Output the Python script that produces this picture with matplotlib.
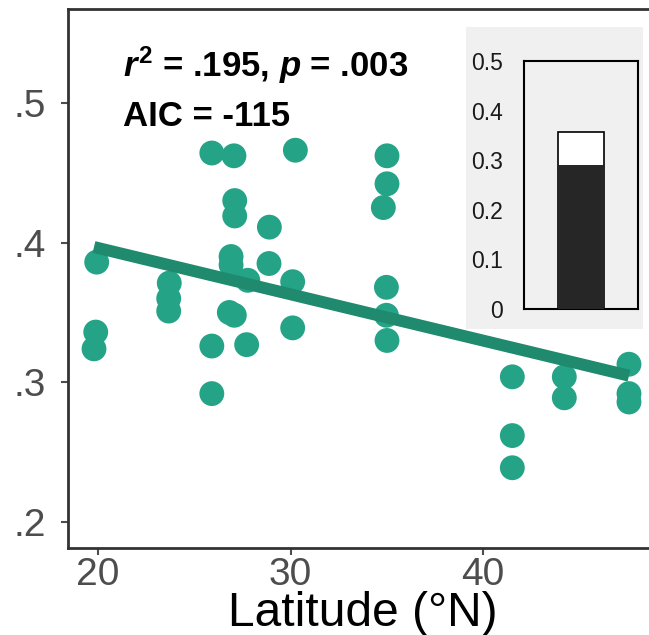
import numpy as np
import matplotlib
matplotlib.use('Agg')
import matplotlib.pyplot as plt

plt.rcParams['font.family'] = ['Liberation Sans', 'DejaVu Sans']
plt.rcParams['mathtext.fontset'] = 'custom'
plt.rcParams['mathtext.it'] = 'Liberation Sans:italic:bold'
plt.rcParams['mathtext.rm'] = 'Liberation Sans:bold'
plt.rcParams['mathtext.bf'] = 'Liberation Sans:bold'

# site latitude and trait value
latitude = [19.93, 19.88, 19.79, 23.70, 23.67, 23.67, 25.91, 25.91, 25.91,
            27.06, 27.10, 27.10, 26.91, 26.91, 26.82, 27.08, 27.78, 27.72,
            28.90, 28.88, 30.25, 30.11, 30.11, 35.01, 35.01, 34.82, 34.98,
            34.98, 35.01, 41.52, 41.52, 41.52, 44.22, 44.22, 47.58, 47.58,
            47.58]
value = [0.386, 0.336, 0.324, 0.371, 0.360, 0.351, 0.464, 0.326, 0.292,
         0.462, 0.430, 0.419, 0.390, 0.384, 0.350, 0.348, 0.373, 0.327,
         0.411, 0.385, 0.466, 0.372, 0.339, 0.462, 0.442, 0.425, 0.368,
         0.348, 0.330, 0.304, 0.262, 0.239, 0.304, 0.289, 0.313, 0.292,
         0.286]

# linear fit (slope, intercept)
fit_coef = [-0.00331, 0.4623]

stat_line = r'$r^2$ = .195, $p$ = .003'
aic_line = 'AIC = -115'

# inset bar: fitted part and total
inset_fixed = 0.290
inset_total = 0.357
inset_ticks = [0, 0.1, 0.2, 0.3, 0.4, 0.5]
inset_ticklabels = ['0', '0.1', '0.2', '0.3', '0.4', '0.5']

fig = plt.figure(figsize=(6.49, 6.35), dpi=100)
ax = fig.add_axes([0.1048, 0.1365, 0.8952, 0.8501])

ax.scatter(latitude, value, s=320, color='#24a387', edgecolors='none',
           zorder=2)
xs = np.array([min(latitude), max(latitude)])
ax.plot(xs, np.polyval(fit_coef, xs), color='#1f8a6e', lw=8.6,
        solid_capstyle='butt', zorder=3)

ax.set_xlim(18.44, 48.62)
ax.set_ylim(0.1814, 0.5673)
ax.set_xticks([20, 30, 40])
ax.set_yticks([0.2, 0.3, 0.4, 0.5])
ax.set_yticklabels(['.2', '.3', '.4', '.5'])
ax.tick_params(labelsize=28, colors='#4d4d4d', length=5, width=1.5,
               direction='out')
ax.tick_params(axis='x', pad=1)
ax.tick_params(axis='y', pad=11)
for side in ['left', 'bottom', 'top']:
    ax.spines[side].set_color('#333333')
    ax.spines[side].set_linewidth(2)
ax.spines['right'].set_visible(False)
ax.set_xlabel('Latitude (°N)', fontsize=34.5, color='black', labelpad=-1)
ax.xaxis.label.set_x(0.507)

ax.text(0.0947, 0.8737, stat_line, transform=ax.transAxes, fontsize=25,
        fontweight='bold', va='baseline', ha='left')
ax.text(0.0947, 0.7823, aic_line, transform=ax.transAxes, fontsize=25,
        fontweight='bold', va='baseline', ha='left')

# inset panel background
bg = fig.add_axes([0.718, 0.4819, 0.2728, 0.4756])
bg.set_facecolor('#f0f0f0')
bg.set_xticks([])
bg.set_yticks([])
for sp in bg.spines.values():
    sp.set_visible(False)

inset = fig.add_axes([0.8074, 0.5134, 0.1757, 0.3906])
inset.set_facecolor('#f0f0f0')
inset.bar([0], [inset_total], width=0.4, color='white', edgecolor='black',
          linewidth=1.2, zorder=2)
inset.bar([0], [inset_fixed], width=0.4, color='#262626', edgecolor='none',
          zorder=3)
inset.set_xlim(-0.5, 0.5)
inset.set_ylim(0, 0.5)
inset.set_xticks([])
inset.set_yticks(inset_ticks)
inset.set_yticklabels(inset_ticklabels)
inset.tick_params(axis='y', length=0, pad=15, labelsize=16.5,
                  colors='#1a1a1a')
for sp in inset.spines.values():
    sp.set_linewidth(1.5)
    sp.set_color('black')

fig.savefig('out.png', dpi=100)
